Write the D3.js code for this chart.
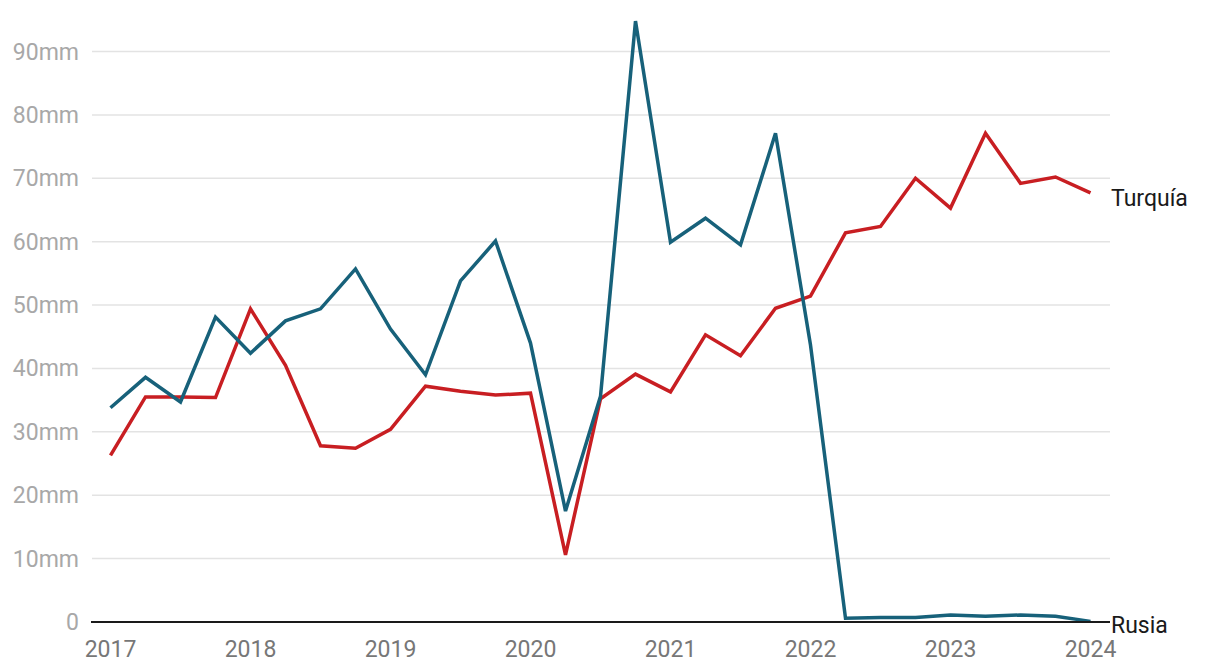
<!DOCTYPE html>
<html>
<head>
<meta charset="utf-8">
<script src="https://cdn.jsdelivr.net/npm/d3@7"></script>
<style>
  body { margin: 0; background: #fff; }
  text { font-family: Roboto, "Noto Sans", sans-serif; }
</style>
</head>
<body>
<div id="chart-area"></div>
<script>
// trimestres 2017 T1 .. 2024 T1
var quarters = d3.range(0, 29).map(i => 2017 + i / 4)

var turquia = [26.3, 35.5, 35.5, 35.4, 49.4, 40.5, 27.8, 27.4, 30.4, 37.2, 36.4, 35.8,
  36.1, 10.6, 35.2, 39.1, 36.3, 45.3, 42.0, 49.5, 51.4, 61.4, 62.4, 70.0, 65.3, 77.1,
  69.2, 70.2, 67.7]

var rusia = [33.8, 38.6, 34.7, 48.1, 42.4, 47.5, 49.4, 55.7, 46.2, 39.0, 53.8, 60.1,
  44.0, 17.5, 35.6, 94.8, 59.9, 63.7, 59.5, 77.1, 43.7, 0.6, 0.7, 0.7, 1.1, 0.9,
  1.1, 0.9, 0.1]

var yTicks = [0, 10, 20, 30, 40, 50, 60, 70, 80, 90]
var xTicks = [2017, 2018, 2019, 2020, 2021, 2022, 2023, 2024]

var series = [
  { name: "Turquía", values: turquia, color: "#c81e22" },
  { name: "Rusia", values: rusia, color: "#17617a" }
]

var width = 1220, height = 672

var svg = d3.select("#chart-area").append("svg")
    .attr("width", width)
    .attr("height", height)

var x = d3.scaleLinear().domain([2017, 2024]).range([110.5, 1090.5])
var y = d3.scaleLinear().domain([0, 90]).range([622, 51.5])

// lineas de la grilla
svg.append("g")
  .selectAll("line")
  .data(yTicks.filter(d => d > 0))
  .join("line")
    .attr("x1", 92).attr("x2", 1110)
    .attr("y1", d => y(d)).attr("y2", d => y(d))
    .attr("stroke", "#e3e3e3")
    .attr("stroke-width", 1.5)

// etiquetas eje y
svg.append("g")
  .selectAll("text")
  .data(yTicks)
  .join("text")
    .attr("x", 79)
    .attr("y", d => y(d))
    .attr("dy", "0.35em")
    .attr("text-anchor", "end")
    .attr("font-size", 23)
    .attr("fill", "#a8a8a8")
    .text(d => d === 0 ? "0" : d + "mm")

// etiquetas eje x
svg.append("g")
  .selectAll("text")
  .data(xTicks)
  .join("text")
    .attr("x", d => x(d))
    .attr("y", 657)
    .attr("text-anchor", "middle")
    .attr("font-size", 23)
    .attr("fill", "#777")
    .text(d => d)

var line = d3.line()
    .x((d, i) => x(quarters[i]))
    .y(d => y(d))

svg.append("g")
  .selectAll("path")
  .data(series)
  .join("path")
    .attr("d", d => line(d.values))
    .attr("fill", "none")
    .attr("stroke", d => d.color)
    .attr("stroke-width", 3.5)
    .attr("stroke-linejoin", "miter")

// linea base
svg.append("line")
    .attr("x1", 91).attr("x2", 1110)
    .attr("y1", y(0)).attr("y2", y(0))
    .attr("stroke", "#1a1a1a")
    .attr("stroke-width", 2)

// etiquetas de series
svg.append("g")
  .selectAll("text")
  .data(series)
  .join("text")
    .attr("x", 1111)
    .attr("y", d => d.name == "Turquía" ? 206 : 633)
    .attr("font-size", 23)
    .attr("fill", "#1a1a1a")
    .text(d => d.name)
</script>
</body>
</html>
